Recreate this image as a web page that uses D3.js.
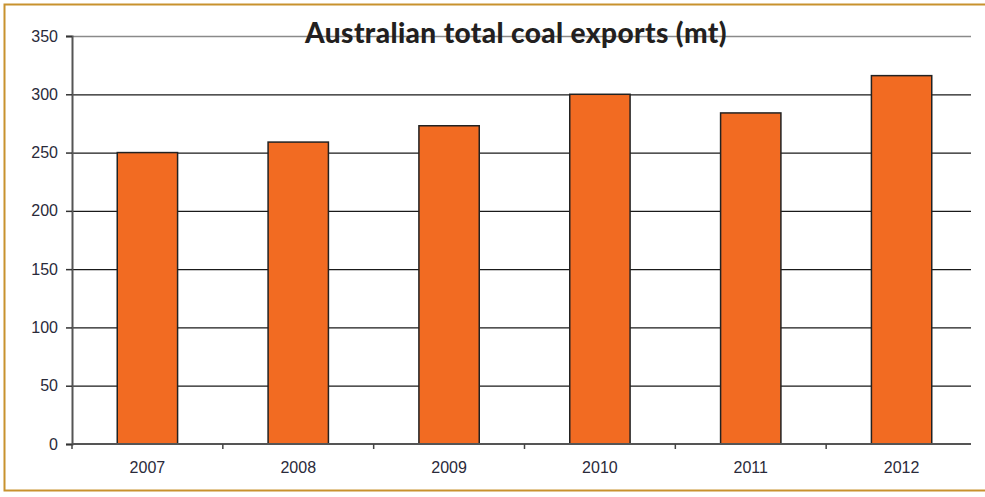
<!DOCTYPE html>
<html>
<head>
<meta charset="utf-8">
<script src="https://cdn.jsdelivr.net/npm/d3@7"></script>
<style>
  body { margin: 0; background: #fff; }
  svg { display: block; }
</style>
</head>
<body>
<svg id="chart" width="985" height="497"></svg>
<script>
// chart data
var years = ["2007", "2008", "2009", "2010", "2011", "2012"];
var coalExports = [250, 259, 273, 300, 284, 316];
var yTicks = [0, 50, 100, 150, 200, 250, 300, 350];

var svg = d3.select('#chart');

// outer frame
svg.append("rect")
  .attr("x", 4.5).attr("y", 4.5)
  .attr("width", 1000).attr("height", 486)
  .attr("fill", "none")
  .attr("stroke", "#c8922e")
  .attr("stroke-width", 2);

var mLeft = 72, mRight = 977, mTop = 36, mBottom = 444;

var x = d3.scaleBand().domain(years).range([mLeft, mRight]).paddingInner(0.6).paddingOuter(0.3);
var y = d3.scaleLinear().domain([0, 350]).range([mBottom, mTop]);

// gridlines
svg.append("g")
  .selectAll("line")
  .data(yTicks.filter(function (d) { return d > 0; }))
  .enter()
  .append("line")
  .attr("x1", mLeft).attr("x2", 971)
  .attr("y1", function (d) { return y(d) + 0.5; })
  .attr("y2", function (d) { return y(d) + 0.5; })
  .attr("stroke", function (d) { return d == 350 ? "#8a8a8a" : "#1a1a1a"; })
  .attr("stroke-width", 1.3);

// bars
svg.append("g")
  .selectAll("rect")
  .data(years)
  .enter()
  .append("rect")
  .attr("x", function (d) { return x(d); })
  .attr("y", function (d, i) { return y(coalExports[i]); })
  .attr("width", x.bandwidth())
  .attr("height", function (d, i) { return mBottom - y(coalExports[i]); })
  .attr("fill", "#f26b22")
  .attr("stroke", "#222")
  .attr("stroke-width", 1.5);

// y axis
var yAxis = svg.append("g")
  .attr("transform", "translate(" + mLeft + ",0)")
  .call(d3.axisLeft(y).tickValues(yTicks).tickSize(6).tickPadding(8));
yAxis.select(".domain").attr("stroke", "#555").attr("stroke-width", 2);
yAxis.selectAll(".tick line").attr("stroke", "#333").attr("stroke-width", 1.5);
yAxis.selectAll("text")
  .attr("font-family", "Liberation Sans, Arial, sans-serif")
  .attr("font-size", 16)
  .attr("fill", "#2a2a3a");

// x axis, ticks at band boundaries
var step = x.step();
var xAxis = svg.append("g").attr("transform", "translate(0," + mBottom + ")");
xAxis.append("line")
  .attr("x1", mLeft).attr("x2", 971)
  .attr("stroke", "#555").attr("stroke-width", 2);
xAxis.selectAll("line.tk")
  .data(years)
  .enter()
  .append("line")
  .attr("class", "tk")
  .attr("x1", function (d) { return x(d) + x.bandwidth() / 2 - step / 2; })
  .attr("x2", function (d) { return x(d) + x.bandwidth() / 2 - step / 2; })
  .attr("y1", 0).attr("y2", 5)
  .attr("stroke", "#444").attr("stroke-width", 1.5);
xAxis.selectAll("text")
  .data(years)
  .enter()
  .append("text")
  .attr("x", function (d) { return x(d) + x.bandwidth() / 2; })
  .attr("y", 29)
  .attr("text-anchor", "middle")
  .attr("font-family", "Liberation Sans, Arial, sans-serif")
  .attr("font-size", 16)
  .attr("fill", "#2a2a3a")
  .text(function (d) { return d; });

// title
svg.append("text")
  .attr("x", 516).attr("y", 43)
  .attr("text-anchor", "middle")
  .attr("font-family", "Lato, sans-serif")
  .attr("font-weight", 900)
  .attr("font-size", 28)
  .attr("letter-spacing", 0.4)
  .attr("fill", "#231f20")
  .text("Australian total coal exports (mt)");
</script>
</body>
</html>
